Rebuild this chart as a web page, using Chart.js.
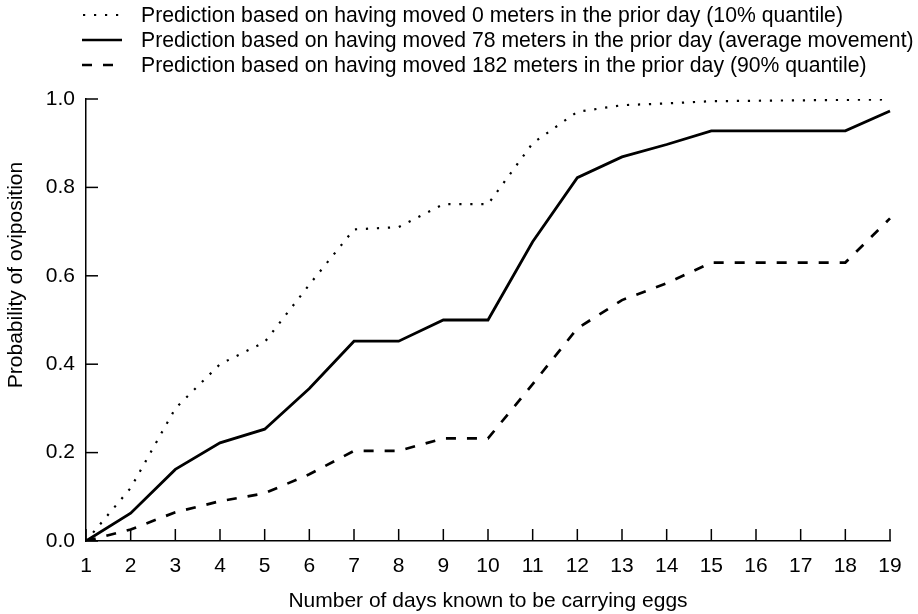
<!DOCTYPE html>
<html>
<head>
<meta charset="utf-8">
<script src="https://cdn.jsdelivr.net/npm/chart.js@4.4.1/dist/chart.umd.min.js"></script>
<style>
  html, body { margin: 0; padding: 0; background: #fff; }
  #wrap { width: 918px; height: 614px; }
</style>
</head>
<body>
<div id="wrap"><canvas id="myChart" width="918" height="614"></canvas></div>
<script>
// days on the x axis
var days = [1, 2, 3, 4, 5, 6, 7, 8, 9, 10, 11, 12, 13, 14, 15, 16, 17, 18, 19];

// predicted probability of oviposition
var moved0 = [0, 0.12, 0.30, 0.40, 0.45, 0.58, 0.705, 0.71, 0.762, 0.762, 0.90, 0.971, 0.986, 0.99, 0.995, 0.996, 0.997, 0.998, 0.999];
var moved78 = [0, 0.063, 0.162, 0.222, 0.253, 0.345, 0.452, 0.452, 0.5, 0.5, 0.677, 0.822, 0.869, 0.897, 0.928, 0.928, 0.928, 0.928, 0.973];
var moved182 = [0, 0.026, 0.065, 0.09, 0.108, 0.151, 0.204, 0.204, 0.232, 0.232, 0.355, 0.481, 0.545, 0.583, 0.63, 0.63, 0.63, 0.63, 0.73];

var legendLabels = [
  "Prediction based on having moved 0 meters in the prior day (10% quantile)",
  "Prediction based on having moved 78 meters in the prior day (average movement)",
  "Prediction based on having moved 182 meters in the prior day (90% quantile)"
];
var xTitle = "Number of days known to be carrying eggs";
var yTitle = "Probability of oviposition";

var FONT = "'Liberation Sans', Arial, Helvetica, sans-serif";
var FSIZE = 21;

var dotDash = [2.2, 8.8];
var longDash = [10, 11];

// draws legend, axis titles and inward tick marks
var extras = {
  id: "extras",
  afterDraw: function (chart) {
    var ctx = chart.ctx;
    var area = chart.chartArea;
    var xs = chart.scales.x;
    var ys = chart.scales.y;
    ctx.save();
    ctx.strokeStyle = "#000";
    ctx.lineWidth = 1.5;
    ctx.setLineDash([]);
    // ticks go inside the plot
    xs.ticks.forEach(function (t, i) {
      var px = xs.getPixelForTick(i);
      ctx.beginPath();
      ctx.moveTo(px, area.bottom);
      ctx.lineTo(px, area.bottom - 12);
      ctx.stroke();
    });
    ys.ticks.forEach(function (t, i) {
      var py = ys.getPixelForTick(i);
      ctx.beginPath();
      ctx.moveTo(area.left, py);
      ctx.lineTo(area.left + 12, py);
      ctx.stroke();
    });

    // legend
    var styles = [dotDash, [], longDash];
    var widths = [2.2, 2.7, 2.7];
    ctx.font = "21.2px " + FONT;
    ctx.fillStyle = "#000";
    ctx.textBaseline = "middle";
    ctx.textAlign = "left";
    legendLabels.forEach(function (lab, i) {
      var y = 15 + i * 25;
      ctx.beginPath();
      ctx.lineWidth = widths[i];
      ctx.setLineDash(styles[i]);
      ctx.moveTo(i == 0 ? 83 : 82, y);
      ctx.lineTo(122, y);
      ctx.stroke();
      ctx.setLineDash([]);
      ctx.fillText(lab, 141, y + 1);
    });

    // axis titles
    ctx.font = FSIZE + "px " + FONT;
    ctx.textAlign = "center";
    ctx.fillText(xTitle, (area.left + area.right) / 2, 601);
    ctx.translate(16, 275);
    ctx.rotate(-Math.PI / 2);
    ctx.fillText(yTitle, 0, 0);
    ctx.restore();
  }
};

var config = {
  type: "line",
  data: {
    labels: days,
    datasets: [
      { label: legendLabels[0], data: moved0, borderColor: "#000", borderWidth: 2.2, borderDash: dotDash },
      { label: legendLabels[1], data: moved78, borderColor: "#000", borderWidth: 2.8 },
      { label: legendLabels[2], data: moved182, borderColor: "#000", borderWidth: 2.7, borderDash: longDash }
    ]
  },
  options: {
    responsive: false,
    animation: false,
    devicePixelRatio: 1,
    layout: { padding: { top: 99, right: 28, left: 0, bottom: 0 } },
    elements: { point: { radius: 0 }, line: { tension: 0, fill: false, borderCapStyle: "butt" } },
    plugins: { legend: { display: false }, tooltip: { enabled: false } },
    scales: {
      x: {
        type: "category",
        offset: false,
        grid: { display: true, drawOnChartArea: false, drawTicks: false },
        border: { display: true, color: "#000", width: 1.5 },
        ticks: { color: "#000", font: { family: FONT, size: FSIZE }, padding: 13, autoSkip: false, maxRotation: 0 },
        afterFit: function (s) { s.height = 614 - 541; }
      },
      y: {
        min: 0,
        max: 1,
        grid: { display: true, drawOnChartArea: false, drawTicks: false },
        border: { display: true, color: "#000", width: 1.5 },
        ticks: {
          stepSize: 0.2, color: "#000", font: { family: FONT, size: FSIZE }, padding: 11,
          callback: function (v) { return v.toFixed(1); }
        },
        afterFit: function (s) { s.width = 86; }
      }
    }
  },
  plugins: [extras]
};

var myChart = new Chart(document.getElementById("myChart"), config);
</script>
</body>
</html>
